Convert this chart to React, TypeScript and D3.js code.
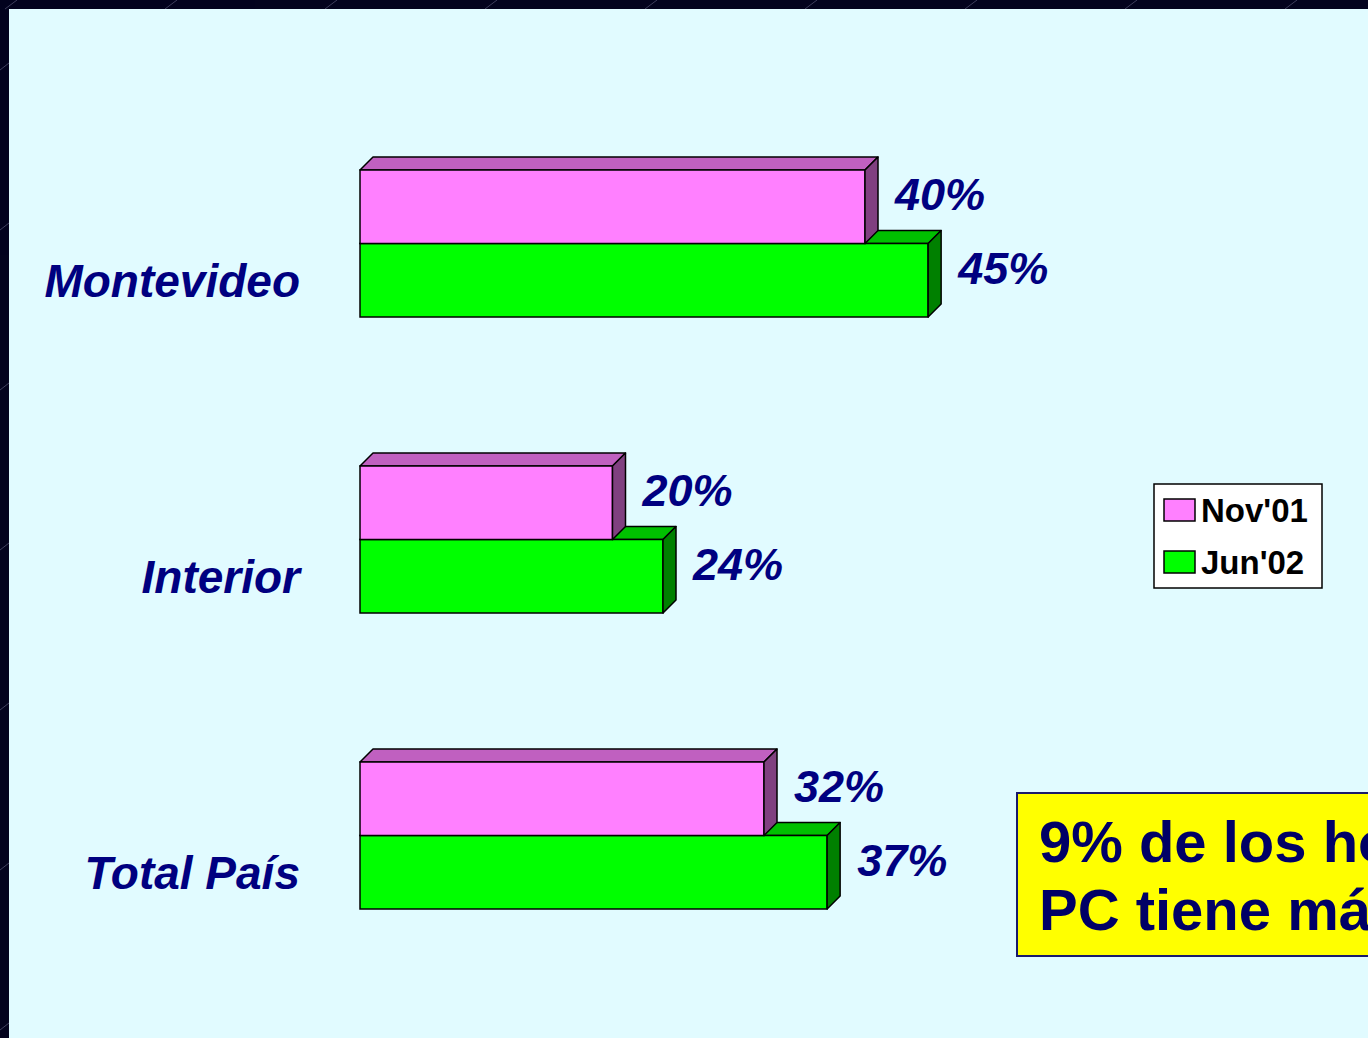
import React from "react";
import * as d3 from "d3";

const categories = ["Montevideo", "Interior", "Total País"];
const seriesNames = ["Nov'01", "Jun'02"];
const nov01 = [40, 20, 32];
const jun02 = [45, 24, 37];
const calloutLines = ["9% de los hogares con", "PC tiene más de una PC"];

const W = 1368;
const H = 1038;
const FONT = "'Liberation Sans', Arial, Helvetica, sans-serif";
const NAVY = "#000080";

const faces = [
  { front: "#FF80FF", top: "#C060C0", side: "#804080" },
  { front: "#00FF00", top: "#00C000", side: "#008000" },
];

export default function App() {
  const x = d3.scaleLinear().domain([0, 50]).range([360, 991.25]);
  const y = d3.scaleBand<string>().domain(categories).range([95.5, 983.5]).padding(0);
  const inner = d3.scaleBand<string>().domain(seriesNames).range([0, 147]).padding(0);
  const depth = 13;
  const series = [nov01, jun02];

  const bar = (ci: number, si: number) => {
    const cat = categories[ci];
    const v = series[si][ci];
    const y0 = (y(cat) as number) + (y.bandwidth() - 147) / 2 + (inner(seriesNames[si]) as number);
    const y1 = y0 + inner.bandwidth();
    const x0 = x(0);
    const x1 = x(v);
    const f = faces[si];
    const top = `M${x0},${y0}L${x0 + depth},${y0 - depth}L${x1 + depth},${y0 - depth}L${x1},${y0}Z`;
    const side = `M${x1},${y0}L${x1 + depth},${y0 - depth}L${x1 + depth},${y1 - depth}L${x1},${y1}Z`;
    const cy = (y0 + y1) / 2 - depth;
    return (
      <g key={`${ci}-${si}`}>
        <path d={top} fill={f.top} stroke="#000" strokeWidth={1.5} strokeLinejoin="round" />
        <rect x={x0} y={y0} width={x1 - x0} height={y1 - y0} fill={f.front} stroke="#000" strokeWidth={1.5} />
        <path d={side} fill={f.side} stroke="#000" strokeWidth={1.5} strokeLinejoin="round" />
        <text
          x={x1 + depth + 17}
          y={cy + 16.5}
          fontFamily={FONT}
          fontSize={45}
          fontWeight="bold"
          fontStyle="italic"
          fill={NAVY}
        >
          {v}%
        </text>
      </g>
    );
  };

  const borderLines: number[] = d3.range(-80, 1400, 160);

  return (
    <div style={{ position: "absolute", left: 0, top: 0, width: W, height: H, overflow: "hidden" }}>
      <svg width={W} height={H} style={{ display: "block" }}>
        <defs>
          <clipPath id="border">
            <rect x={0} y={0} width={W} height={9} />
            <rect x={0} y={0} width={9} height={H} />
          </clipPath>
        </defs>
        <rect x={0} y={0} width={W} height={H} fill="#E1FBFF" />
        <rect x={0} y={0} width={W} height={9} fill="#03031E" />
        <rect x={0} y={0} width={9} height={H} fill="#03031E" />
        <g clipPath="url(#border)" stroke="#5a5a7a" strokeWidth={1} opacity={0.7}>
          {borderLines.map((b) => (
            <line key={`t${b}`} x1={b + 85} y1={9} x2={b + 97} y2={0} />
          ))}
          {borderLines.map((b) => (
            <line key={`l${b}`} x1={0} y1={b + 150} x2={9} y2={b + 143} />
          ))}
        </g>

        {categories.map((cat) => {
          const gy = (y(cat) as number) + y.bandwidth() / 2 + 36.75;
          return (
            <text
              key={cat}
              x={300}
              y={gy + 16.5}
              textAnchor="end"
              fontFamily={FONT}
              fontSize={46}
              fontWeight="bold"
              fontStyle="italic"
              fill={NAVY}
            >
              {cat}
            </text>
          );
        })}

        {categories.map((_, ci) => (
          <g key={ci}>
            {bar(ci, 1)}
            {bar(ci, 0)}
          </g>
        ))}

        <g>
          <rect x={1154} y={484} width={168} height={104} fill="#FFFFFF" stroke="#000" strokeWidth={1.5} />
          {seriesNames.map((s, i) => (
            <g key={s}>
              <rect
                x={1164}
                y={499 + i * 52}
                width={31}
                height={22}
                fill={faces[i].front}
                stroke="#000"
                strokeWidth={1.5}
              />
              <text x={1201} y={522 + i * 52} fontFamily={FONT} fontSize={33} fontWeight="bold" fill="#000">
                {s}
              </text>
            </g>
          ))}
        </g>

        <g>
          <rect x={1017} y={793} width={400} height={163} fill="#FFFF00" stroke="#1a1a6a" strokeWidth={2} />
          {calloutLines.map((t, i) => (
            <text key={i} x={1039} y={862 + i * 68} fontFamily={FONT} fontSize={58} fontWeight="bold" fill="#000066">
              {t}
            </text>
          ))}
        </g>
      </svg>
    </div>
  );
}
